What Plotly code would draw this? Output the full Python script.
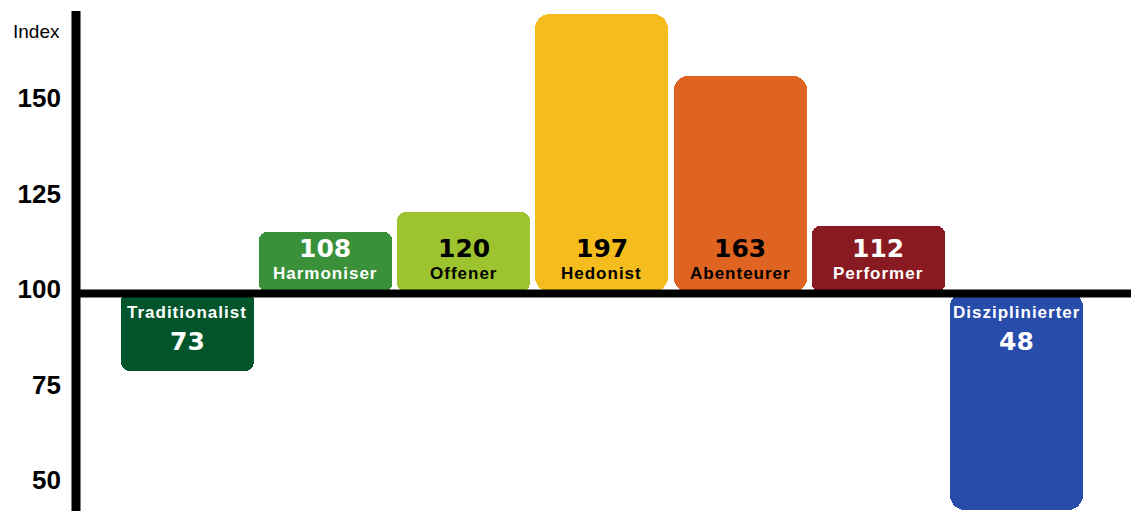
import plotly.graph_objects as go

categories = ["Traditionalist", "Harmoniser", "Offener", "Hedonist", "Abenteurer", "Performer", "Disziplinierter"]
index_labels = [73, 108, 120, 197, 163, 112, 48]
# bar ends as drawn in the picture (index scale, baseline 100)
bar_ends = [79.3, 115.7, 120.9, 172.8, 156.5, 117.3, 42.9]
colors = ["#02552A", "#3A913A", "#9DC42E", "#F5BC1E", "#E06421", "#8A1A21", "#284CAA"]
text_colors = ["white", "white", "black", "black", "black", "white", "white"]
corner_radii = [9, 8, 9, 15, 14, 8, 15]
tick_values = [50, 75, 100, 125, 150]
baseline = 100

FONT = "Liberation Sans, Arial, Helvetica, sans-serif"
VFONT = "DejaVu Sans, Verdana, sans-serif"

fig = go.Figure()
for cat, end, col, rad in zip(categories, bar_ends, colors, corner_radii):
    fig.add_trace(go.Bar(
        x=[cat],
        y=[end - baseline],
        base=baseline,
        width=0.962,
        marker=dict(color=col, cornerradius=rad, line=dict(width=0)),
        hoverinfo="skip",
    ))

annotations = []
for cat, lab, end, tc in zip(categories, index_labels, bar_ends, text_colors):
    up = end >= baseline
    val_shift = 44 if up else -49
    name_shift = 19 if up else -20
    annotations.append(dict(
        x=cat, y=baseline, xref="x", yref="y", showarrow=False,
        text=f"<b>{lab}</b>", yshift=val_shift, yanchor="middle",
        font=dict(family=VFONT, size=25, color=tc),
    ))
    annotations.append(dict(
        x=cat, y=baseline, xref="x", yref="y", showarrow=False,
        text=f"<b><span style='letter-spacing:1px'>{cat}</span></b>", yshift=name_shift, yanchor="middle",
        font=dict(family=FONT, size=17, color=tc),
    ))
annotations.append(dict(
    x=0, y=1, xref="paper", yref="paper", showarrow=False,
    text="Index", xanchor="right", yanchor="middle", xshift=-14, yshift=-20,
    font=dict(family=FONT, size=19, color="black"),
))

shapes = [
    dict(type="line", xref="paper", yref="paper", x0=0, x1=0, y0=0, y1=1,
         line=dict(color="black", width=9), layer="above"),
    dict(type="line", xref="paper", yref="y", x0=0, x1=1, y0=baseline - 0.4, y1=baseline - 0.4,
         line=dict(color="black", width=8), layer="above"),
]

fig.update_layout(
    width=1131, height=511,
    margin=dict(l=76, r=0, t=11, b=0),
    paper_bgcolor="white", plot_bgcolor="white",
    showlegend=False,
    barmode="overlay",
    bargap=0,
    xaxis=dict(type="category", categoryorder="array", categoryarray=categories,
               range=[-0.803, 6.828], showticklabels=False,
               showgrid=False, zeroline=False, showline=False, fixedrange=True),
    yaxis=dict(range=[42.67, 173.56], tickvals=tick_values,
               ticktext=[str(v) for v in tick_values],
               showgrid=False, zeroline=False, showline=False,
               ticklabelstandoff=14, ticklabelshift=-3,
               tickfont=dict(family=FONT, size=26, color="black", weight="bold"),
               fixedrange=True),
    annotations=annotations,
    shapes=shapes,
)

fig.write_html(
    "out.html",
    config={"displayModeBar": False},
    post_script="document.body.style.margin='0';document.body.style.padding='0';document.body.style.overflow='hidden';",
)
